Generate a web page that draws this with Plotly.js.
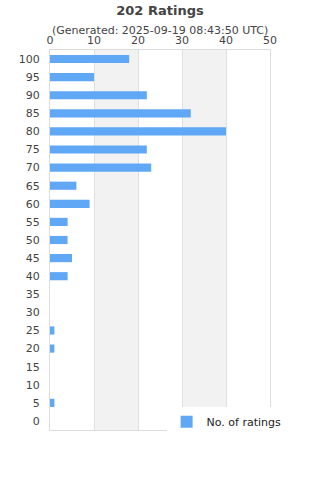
<!DOCTYPE html>
<html>
<head>
<meta charset="utf-8">
<script src="https://cdn.plot.ly/plotly-3.0.1.min.js"></script>
<style>html,body{margin:0;padding:0;background:#fff;}#chart{width:320px;height:480px;}</style>
</head>
<body>
<div id="chart"></div>
<script>
const categories = ['0','5','10','15','20','25','30','35','40','45','50','55','60','65','70','75','80','85','90','95','100'];
const ratingCounts = [0,1,0,0,1,1,0,0,4,5,4,4,9,6,23,22,40,32,22,10,18];
const seriesName = 'No. of ratings';
const titleText = '202 Ratings';
const subtitleText = '(Generated: 2025-09-19 08:43:50 UTC)';

const bands = [[10,20],[30,40]].map(b => ({
  type:'rect', xref:'x', yref:'paper', x0:b[0], x1:b[1], y0:0, y1:1,
  fillcolor:'#f2f2f2', line:{width:0}, layer:'below'
}));

const trace = {
  type:'bar', orientation:'h', y:categories, x:ratingCounts, name:seriesName,
  marker:{color:'#60a8f5', line:{width:0}}, width:0.45, showlegend:true
};

const layout = {
  width:320, height:480,
  margin:{l:50, r:50, t:50, b:50},
  paper_bgcolor:'#fff', plot_bgcolor:'rgba(0,0,0,0)',
  font:{family:'DejaVu Sans', size:11, color:'#444'},
  title:{text:'<b>'+titleText+'</b>', font:{size:13, color:'#444'}, x:0.5, xanchor:'center', yref:'container', y:1-10/480, yanchor:'middle'},
  annotations:[{text:subtitleText, xref:'paper', yref:'paper', x:0.5, y:1+20/380, xanchor:'center', yanchor:'middle', showarrow:false, font:{size:11, color:'#444'}}],
  shapes:bands,
  xaxis:{side:'top', range:[0,50], dtick:10, tick0:0, showgrid:true, gridcolor:'#e0e0e0', showline:true, mirror:true, linecolor:'#dcdcdc', zeroline:false, ticks:'', ticklabelstandoff:1, fixedrange:true},
  yaxis:{type:'category', showgrid:false, showline:true, mirror:true, linecolor:'#dcdcdc', zeroline:false, ticks:'', ticklabelstandoff:7},
  showlegend:true,
  legend:{x:0.53, xanchor:'left', y:0.022, yanchor:'middle', bgcolor:'#fff', font:{size:11, color:'#222'}, itemwidth:30}
};

Plotly.newPlot('chart', [trace], layout, {displayModeBar:false, staticPlot:true});
</script>
</body>
</html>
